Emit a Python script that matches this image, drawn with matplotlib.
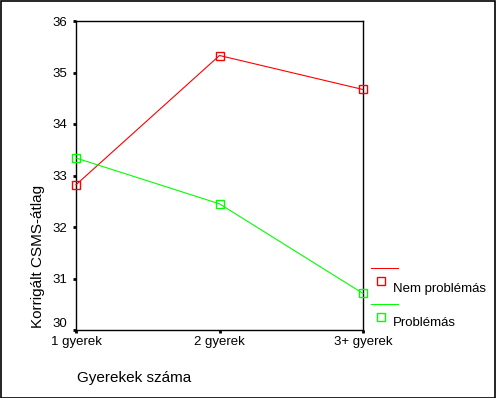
import matplotlib
matplotlib.use("Agg")
import matplotlib.pyplot as plt
from matplotlib.lines import Line2D
from matplotlib.patches import Rectangle

categories = ["1 gyerek", "2 gyerek", "3+ gyerek"]
nem_problemas = [32.82, 35.33, 34.67]
problemas = [33.34, 32.45, 30.71]
yticks = [30, 31, 32, 33, 34, 35, 36]

W, H = 496, 398
plt.rcParams['font.family'] = ['Liberation Sans', 'DejaVu Sans']
fig = plt.figure(figsize=(W/100, H/100), dpi=100)

left, right, top, bottom = 76, 363, 21, 330
ax = fig.add_axes([left/W, 1-bottom/H, (right-left)/W, (bottom-top)/H])
x = list(range(len(categories)))
ax.plot(x, nem_problemas, color='#ff0000', lw=0.8, marker='s', ms=5.5,
        mfc='none', mec='#ff0000', mew=1.0, clip_on=False, zorder=3)
ax.plot(x, problemas, color='#00ff00', lw=0.8, marker='s', ms=5.5,
        mfc='none', mec='#00ff00', mew=1.0, clip_on=False, zorder=3)
ax.set_xlim(0, 2)
ax.set_ylim(30, 36)
ax.set_yticks(yticks)
ax.set_yticklabels([str(t) for t in yticks])
ax.set_xticks(x)
ax.set_xticklabels(categories)
for s in ax.spines.values():
    s.set_linewidth(1.0)
ax.tick_params(axis='both', direction='out', length=2.5, width=2, labelsize=9.5, pad=2)
ax.tick_params(axis='y', pad=4)
for lab in ax.get_yticklabels():
    if lab.get_text() == '30':
        lab.set_va('bottom')

fig.text(38/W, 1-256/H, "Korrigált CSMS-átlag", rotation=90, ha='center', va='center', fontsize=11)
fig.text(77/W, 1-378/H, "Gyerekek száma", ha='left', va='center', fontsize=11)

# legend
fig.add_artist(Line2D([371/W, 398/W], [1-267.5/H, 1-267.5/H], color='#ff0000', lw=0.72, antialiased=False))
fig.add_artist(Line2D([381/W], [1-281/H], marker='s', ms=5.5, mfc='none', mec='#ff0000', mew=1.0, ls='none'))
fig.text(393/W, 1-289/H, "Nem problémás", ha='left', va='center', fontsize=9.5)
fig.add_artist(Line2D([371/W, 398/W], [1-303.5/H, 1-303.5/H], color='#00ff00', lw=0.72, antialiased=False))
fig.add_artist(Line2D([381/W], [1-317/H], marker='s', ms=5.5, mfc='none', mec='#00ff00', mew=1.0, ls='none'))
fig.text(393/W, 1-323/H, "Problémás", ha='left', va='center', fontsize=9.5)

fig.add_artist(Rectangle((0.5/W, 0.5/H), (W-1.5)/W, (H-1.5)/H, fill=False, ec='black', lw=1.2, transform=fig.transFigure))

fig.savefig("out.png", dpi=100)
